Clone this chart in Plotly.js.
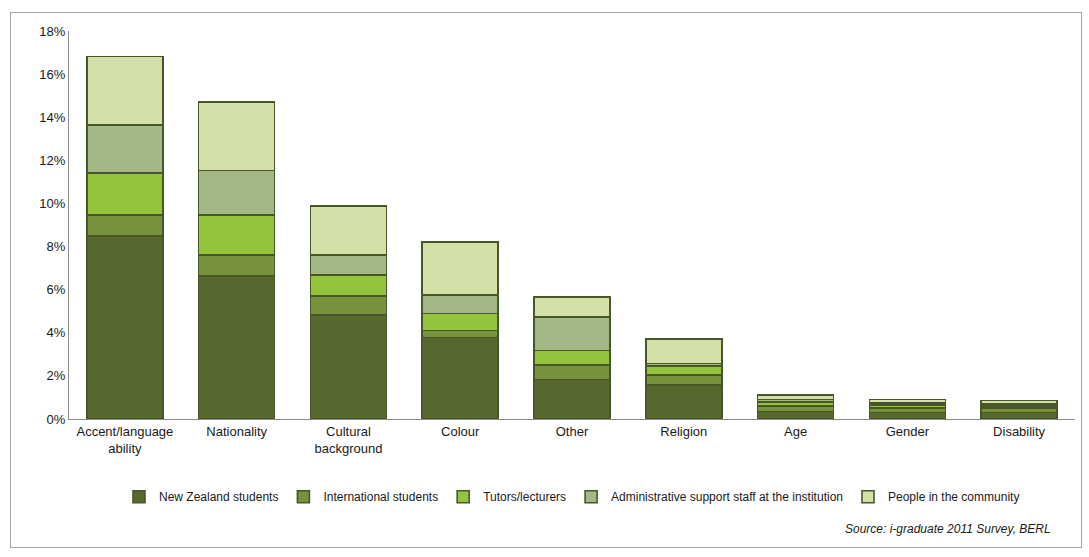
<!DOCTYPE html>
<html>
<head>
<meta charset="utf-8">
<script src="https://cdn.plot.ly/plotly-3.0.1.min.js"></script>
<style>
  html, body { margin: 0; padding: 0; background: #fff; }
  #wrap { position: relative; width: 1089px; height: 557px; }
  #chart { width: 1089px; height: 557px; }
  #frame { position: absolute; left: 10px; top: 12px; width: 1072px; height: 536px;
           border: 1px solid #a6a6a6; pointer-events: none; box-sizing: border-box; }
</style>
</head>
<body>
<div id="wrap">
  <div id="chart"></div>
  <div id="frame"></div>
</div>
<script>
const categories = ["Accent/language<br>ability", "Nationality", "Cultural<br>background", "Colour", "Other", "Religion", "Age", "Gender", "Disability"];
const seriesNames = ["New Zealand students", "International students", "Tutors/lecturers", "Administrative support staff at the institution", "People in the community"];
const nzStudents      = [8.50, 6.63, 4.82, 3.79, 1.84, 1.58, 0.35, 0.30, 0.30];
const intlStudents    = [0.97, 0.98, 0.88, 0.31, 0.66, 0.46, 0.25, 0.20, 0.20];
const tutors          = [1.95, 1.85, 0.98, 0.80, 0.68, 0.42, 0.20, 0.15, 0.10];
const adminStaff      = [2.23, 2.06, 0.93, 0.85, 1.56, 0.12, 0.10, 0.10, 0.10];
const community       = [3.16, 3.20, 2.27, 2.45, 0.93, 1.12, 0.20, 0.15, 0.15];
const yTickVals = [0, 2, 4, 6, 8, 10, 12, 14, 16, 18];
const yTickText = ["0%", "2%", "4%", "6%", "8%", "10%", "12%", "14%", "16%", "18%"];
const sourceText = "Source: i-graduate 2011 Survey, BERL";

const colors = ["#56682E", "#76923C", "#94C43E", "#A3B884", "#D3E1A9"];
const values = [nzStudents, intlStudents, tutors, adminStaff, community];

const traces = values.map((v, i) => ({
  type: "bar",
  name: seriesNames[i],
  x: categories,
  y: v,
  marker: { color: colors[i], line: { color: "#48572A", width: 1.6 } },
  hoverinfo: "skip"
}));

const layout = {
  width: 1089, height: 557,
  barmode: "stack",
  bargap: 0.32,
  paper_bgcolor: "#ffffff",
  plot_bgcolor: "#ffffff",
  font: { family: "Liberation Sans, Arial, sans-serif", size: 12, color: "#1a1a1a" },
  margin: { l: 69, r: 14, t: 31, b: 138 },
  showlegend: true,
  legend: {
    orientation: "h", x: 0.5, xanchor: "center", y: -0.163, yanchor: "top",
    font: { size: 12, color: "#1a1a1a" }, itemwidth: 30, traceorder: "normal",
    tracegroupgap: 0
  },
  xaxis: {
    type: "category",
    showline: true, linecolor: "#8c8c8c", linewidth: 1,
    ticks: "", showgrid: false, zeroline: false,
    tickfont: { size: 13, color: "#1a1a1a" },
    fixedrange: true
  },
  yaxis: {
    range: [0, 18],
    tickvals: yTickVals, ticktext: yTickText,
    showline: true, linecolor: "#8c8c8c", linewidth: 1,
    ticks: "", ticklen: 0, showgrid: false, zeroline: false,
    tickfont: { size: 13, color: "#1a1a1a" },
    fixedrange: true
  },
  annotations: [{
    text: "<i>" + sourceText + "</i>", xref: "paper", yref: "paper",
    x: 0.978, y: -0.26, xanchor: "right", yanchor: "top", showarrow: false,
    font: { size: 12, color: "#1a1a1a", family: "Liberation Sans, Arial, sans-serif" }
  }]
};

Plotly.newPlot("chart", traces, layout, { displayModeBar: false, staticPlot: true });
</script>
</body>
</html>
